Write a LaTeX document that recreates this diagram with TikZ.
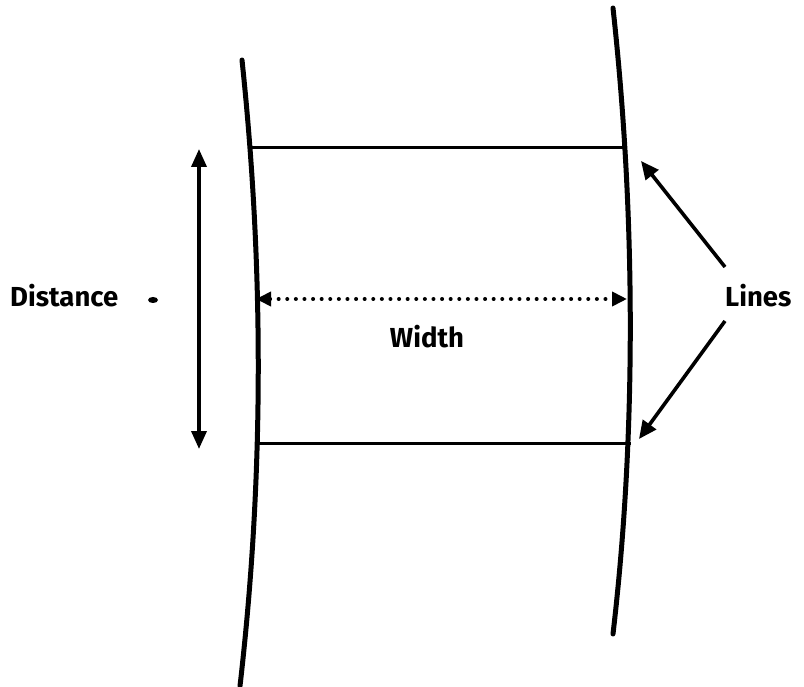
\documentclass[tikz,border=0pt]{standalone}
\usepackage{fontspec}
\setmainfont{Fira Sans}
\usetikzlibrary{arrows.meta}
\begin{document}
\begin{tikzpicture}[x=1pt,y=-1pt,
  curve/.style={line width=5pt,line cap=round},
  rung/.style={line width=3pt},
  arr/.style={line width=3.6pt,-{Triangle[length=18pt,width=16pt]}},
  darr/.style={line width=3.6pt,{Triangle[length=18pt,width=15pt]}-{Triangle[length=18pt,width=15pt]}},
  dotarr/.style={line width=4pt,dash pattern=on 0pt off 8.6pt,line cap=round,
     {Triangle[length=15pt,width=14pt]}-{Triangle[length=15pt,width=14pt]}},
  lab/.style={font=\fontsize{27.5}{30}\selectfont\bfseries,inner sep=0pt}]
\useasboundingbox (0,0) rectangle (804,687);
% curved lines
\draw[curve] (242,60) .. controls (262,250) and (266,460) .. (240,686);
\draw[curve] (613,8) .. controls (634,200) and (638,420) .. (613,634);
% rungs
\coordinate (tl) at (251,148); \coordinate (tr) at (626,148);
\coordinate (bl) at (258,443); \coordinate (br) at (631,443);
\draw[rung] (tl) -- (tr);
\draw[rung] (bl) -- (br);
% distance arrow
\coordinate (dt) at (199,149); \coordinate (db) at (199,449);
\draw[darr] (dt) -- (db);
% width arrow
\coordinate (wl) at (256,299); \coordinate (wr) at (627,299);
\draw[dotarr] (wl) -- (wr);
% labels
\node[lab,anchor=west] (dist) at (10,296) {Distance};
\fill (153,300) ellipse (5pt and 3pt);
\node[lab] (width) at (427,337) {Width};
\node[lab,anchor=west] (lines) at (725,296) {Lines};
% Lines arrows
\coordinate (a1s) at (725,267); \coordinate (a1e) at (641,161);
\coordinate (a2s) at (725,321); \coordinate (a2e) at (639,439);
\draw[arr] (a1s) -- (a1e);
\draw[arr] (a2s) -- (a2e);
\end{tikzpicture}
\end{document}
